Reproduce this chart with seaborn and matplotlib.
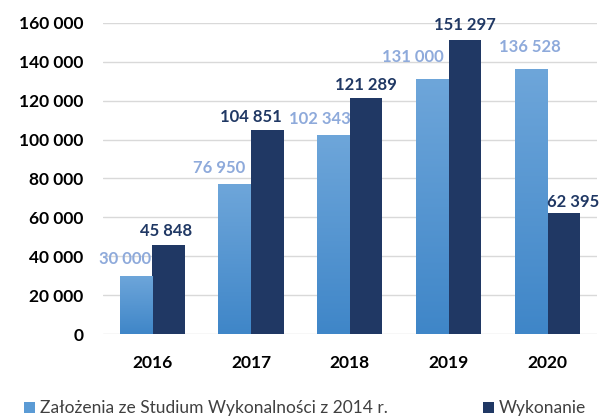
import seaborn as sns
import matplotlib.pyplot as plt
import matplotlib.colors as mcolors
import numpy as np
import pandas as pd

years = ['2016', '2017', '2018', '2019', '2020']
zalozenia = [30000, 76950, 102343, 131000, 136528]
wykonanie = [45848, 104851, 121289, 151297, 62395]
series_names = ['Założenia ze Studium Wykonalności z 2014 r.', 'Wykonanie']

df = pd.DataFrame({
    'rok': years * 2,
    'wartosc': zalozenia + wykonanie,
    'seria': [series_names[0]] * len(years) + [series_names[1]] * len(years),
})

light = '#5b9bd5'
dark = '#203864'
light_lbl = '#8eaadb'

sns.set_theme(style='white')
plt.rcParams['font.family'] = ['Lato', 'DejaVu Sans']

fig = plt.figure(figsize=(6.01, 4.17), dpi=100)
ax = fig.add_axes([0.171, 0.199, 0.822, 0.746])

sns.barplot(data=df, x='rok', y='wartosc', hue='seria', palette=[light, dark],
            width=0.66, gap=0, saturation=1, linewidth=0, ax=ax, legend=True)

ax.set_ylim(0, 160000)
ax.set_xlim(-0.5, 4.5)
ax.set_yticks(range(0, 160001, 20000))
ax.set_yticklabels([f'{v:,}'.replace(',', ' ') for v in range(0, 160001, 20000)])
ax.yaxis.grid(True, color='#d9d9d9', linewidth=1)
ax.set_axisbelow(True)
for s in ax.spines.values():
    s.set_visible(False)
ax.set_xlabel('')
ax.set_ylabel('')
ax.tick_params(axis='both', length=0, labelsize=12.5, colors='black')
ax.tick_params(axis='y', pad=14)
ax.tick_params(axis='x', pad=15)
for t in ax.get_xticklabels() + ax.get_yticklabels():
    t.set_fontweight('bold')

# gradient fill for the light bars
cmap = mcolors.LinearSegmentedColormap.from_list('g', ['#3f86c8', '#6ea6da'])
grad = np.linspace(0, 1, 256).reshape(-1, 1)
light_bars = ax.containers[0]
for p in light_bars:
    x0, y0 = p.get_x(), p.get_y()
    w, h = p.get_width(), p.get_height()
    im = ax.imshow(grad, cmap=cmap, aspect='auto', origin='lower',
                   extent=[x0, x0 + w, y0, y0 + h], zorder=p.get_zorder() + 0.1)
    im.set_clip_path(p)

# value labels
light_off = [(-8, 6), (-11, 6), (-10, 6), (-14, 10), (-1, 10)]
dark_off = [(-2, 4), (-12, 4), (0, 4), (0, 5), (7, 2)]
for p, v, off in zip(light_bars, zalozenia, light_off):
    ax.annotate(f'{v:,}'.replace(',', ' '), (p.get_x() + p.get_width() / 2, v),
                xytext=off, textcoords='offset points', ha='center', va='bottom',
                color=light_lbl, fontsize=12, fontweight='bold', annotation_clip=False)
for p, v, off in zip(ax.containers[1], wykonanie, dark_off):
    ax.annotate(f'{v:,}'.replace(',', ' '), (p.get_x() + p.get_width() / 2, v),
                xytext=off, textcoords='offset points', ha='center', va='bottom',
                color=dark, fontsize=12, fontweight='bold', annotation_clip=False)

handles, labels = ax.get_legend_handles_labels()
ax.legend(handles, labels, loc='lower center', bbox_to_anchor=(0.41, -0.315),
          ncol=2, frameon=False, fontsize=12.5, handlelength=0.6, handleheight=0.6,
          handletextpad=0.3, columnspacing=5.5, labelcolor='#404040')

fig.savefig('out.png', dpi=100)
